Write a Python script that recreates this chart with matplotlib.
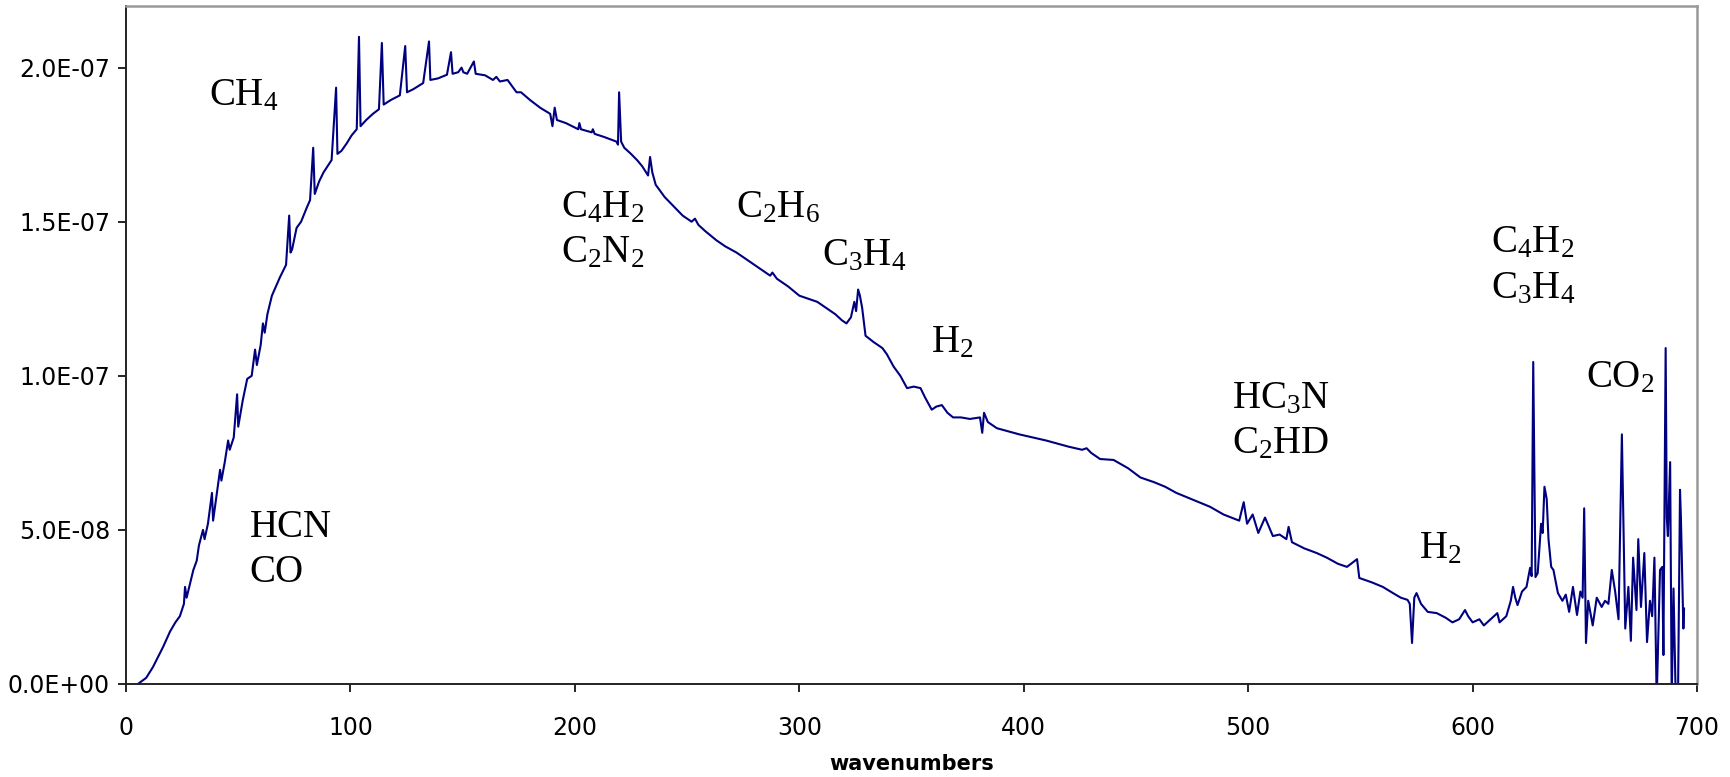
import matplotlib
matplotlib.use("Agg")
import matplotlib.pyplot as plt
from matplotlib.ticker import FuncFormatter

plt.rcParams['mathtext.fontset'] = 'custom'
plt.rcParams['mathtext.rm'] = 'Liberation Serif'
plt.rcParams['mathtext.it'] = 'Liberation Serif:italic'

# spectrum: wavenumber, intensity (units of 1e-7)
wavenumbers = [
    5.3, 9, 12, 16.5, 19.6, 22, 24, 25.8, 26.3, 27, 30, 31.5, 32.5, 34.3, 35, 36.5,
    38.3, 38.8, 40.5, 41.9, 42.5, 44, 45.5, 46.2, 48, 49.5, 50, 52, 54, 56, 57.5,
    58.3, 60, 61, 61.8, 63, 65, 68.6, 71.3, 72.7, 73.3, 74, 76, 78, 80.5, 82, 83.4,
    84.1, 86, 88, 91.6, 93.6, 94.2, 96, 98.4, 100.5, 102.8, 103.8, 104.5, 107, 110,
    112.7, 114, 114.8, 118, 122, 124.4, 125.2, 128, 132.4, 135, 135.6, 139, 143,
    144.8, 145.5, 148, 149.5, 150.3, 152, 155, 155.8, 160, 163.5, 165, 166.6, 170,
    174, 176, 180, 184.5, 189, 190, 191, 192, 196, 201.5, 202, 202.7, 207.5, 208,
    208.8, 213, 218.5, 219.2, 219.7, 220.6, 222, 225, 227.7, 230, 232.6, 233.5,
    234.5, 236, 240, 244, 248, 252, 253.5, 255, 258, 263, 267, 272, 278, 283, 287,
    288, 290, 295, 300, 304, 308, 312, 316, 319, 321, 323, 324.5, 325.3, 326.2,
    327, 328, 329.5, 333, 337, 339, 342, 345, 348, 351, 354, 356, 359, 361, 363.5,
    366, 368.5, 372, 376, 380.5, 381.5, 382.3, 384, 388, 393, 398, 404, 410, 415,
    420, 426, 428, 430, 434, 440, 446.5, 452, 458, 463, 468, 473, 478, 483, 489,
    496, 498, 499.5, 502, 504.5, 507.5, 511, 514, 517, 518, 519.5, 525, 530.5, 535,
    540, 544, 548.5, 549.5, 555, 560, 564.5, 568, 571, 572, 573, 574, 575, 577, 580,
    584, 588, 591, 594, 596.6, 598, 600, 603, 605, 608, 611, 612, 615, 617, 618,
    619, 620, 622, 624, 625.6, 626.3, 627, 628, 629, 630.5, 631.2, 632, 633, 633.8,
    635, 636, 638, 640, 641.5, 643, 644.7, 646.5, 648, 649, 649.7, 650.5, 651.5,
    653.5, 655.3, 657.5, 659, 660.5, 662, 663.5, 665, 666.5, 668, 669.4, 670.5,
    671.5, 673, 673.8, 675, 676.5, 677.7, 679, 680, 681, 682, 683.5, 684.5, 685,
    686, 686.5, 687, 688, 688.7, 689.5, 690.5, 691.5, 692.4, 692.8, 693.9, 694.2,
]
intensity = [
    0.0, 0.02, 0.055, 0.12, 0.17, 0.20, 0.22, 0.26, 0.315, 0.28, 0.37, 0.40, 0.45, 0.50, 0.47, 0.52,
    0.62, 0.53, 0.62, 0.695, 0.66, 0.72, 0.79, 0.76, 0.80, 0.94, 0.835, 0.92, 0.99, 1.00, 1.085,
    1.035, 1.10, 1.17, 1.14, 1.20, 1.26, 1.32, 1.36, 1.52, 1.40, 1.41, 1.48, 1.50, 1.545, 1.57, 1.74,
    1.59, 1.63, 1.66, 1.70, 1.935, 1.72, 1.73, 1.755, 1.78, 1.80, 2.10, 1.81, 1.83, 1.85,
    1.865, 2.08, 1.88, 1.895, 1.91, 2.07, 1.92, 1.93, 1.95, 2.085, 1.96, 1.965, 1.977,
    2.05, 1.98, 1.985, 2.00, 1.985, 1.98, 2.02, 1.98, 1.975, 1.96, 1.97, 1.955, 1.96,
    1.92, 1.92, 1.895, 1.87, 1.85, 1.81, 1.87, 1.83, 1.82, 1.80, 1.82, 1.80, 1.79, 1.80,
    1.785, 1.775, 1.76, 1.75, 1.92, 1.76, 1.74, 1.72, 1.70, 1.68, 1.65, 1.71,
    1.66, 1.62, 1.58, 1.55, 1.52, 1.50, 1.51, 1.49, 1.47, 1.44, 1.42, 1.40, 1.37, 1.345, 1.325,
    1.335, 1.315, 1.29, 1.26, 1.25, 1.24, 1.22, 1.20, 1.18, 1.17, 1.19, 1.24, 1.21, 1.28,
    1.26, 1.22, 1.13, 1.11, 1.09, 1.07, 1.03, 1.00, 0.96, 0.965, 0.96, 0.93, 0.89, 0.90, 0.905,
    0.88, 0.865, 0.865, 0.86, 0.865, 0.815, 0.88, 0.85, 0.83, 0.82, 0.81, 0.80, 0.79, 0.78,
    0.77, 0.76, 0.765, 0.75, 0.73, 0.727, 0.70, 0.67, 0.655, 0.64, 0.62, 0.605, 0.59, 0.575, 0.55,
    0.53, 0.59, 0.52, 0.55, 0.49, 0.54, 0.48, 0.485, 0.47, 0.51, 0.46, 0.44, 0.425, 0.41,
    0.39, 0.38, 0.405, 0.344, 0.33, 0.315, 0.295, 0.28, 0.273, 0.26, 0.133, 0.28, 0.295, 0.26, 0.234,
    0.23, 0.215, 0.20, 0.21, 0.24, 0.22, 0.20, 0.21, 0.19, 0.21, 0.23, 0.20, 0.22, 0.27, 0.315,
    0.28, 0.256, 0.30, 0.315, 0.377, 0.35, 1.045, 0.347, 0.36, 0.52, 0.49, 0.64, 0.60, 0.47,
    0.38, 0.37, 0.295, 0.27, 0.29, 0.234, 0.315, 0.224, 0.30, 0.28, 0.57, 0.133, 0.27,
    0.19, 0.28, 0.25, 0.27, 0.26, 0.37, 0.30, 0.21, 0.81, 0.18, 0.315, 0.14,
    0.41, 0.24, 0.47, 0.25, 0.425, 0.136, 0.27, 0.22, 0.41, -0.05, 0.37, 0.38, 0.094,
    1.09, 0.54, 0.48, 0.72, -0.05, 0.31, -0.05, -0.05, 0.63, 0.54, 0.18, 0.245,
]

# molecule labels: text, x (wavenumber), baseline y (1e-7)
labels = [r'CH$_\mathrm{4}$', 'HCN', 'CO', r'C$_\mathrm{4}$H$_\mathrm{2}$', r'C$_\mathrm{2}$N$_\mathrm{2}$',
          r'C$_\mathrm{2}$H$_\mathrm{6}$', r'C$_\mathrm{3}$H$_\mathrm{4}$', r'H$_\mathrm{2}$',
          r'HC$_\mathrm{3}$N', r'C$_\mathrm{2}$HD', r'H$_\mathrm{2}$', r'C$_\mathrm{4}$H$_\mathrm{2}$',
          r'C$_\mathrm{3}$H$_\mathrm{4}$', r'CO$_\mathrm{2}$']
label_x = [37, 55, 55, 194, 194, 272, 310, 358.7, 493, 493, 576, 608, 608, 650.5]
label_y = [1.877, 0.477, 0.33, 1.513, 1.367, 1.513, 1.36, 1.075, 0.893, 0.747, 0.409, 1.40, 1.25, 0.964]

fig = plt.figure(figsize=(17.31, 7.77), dpi=100)
ax = fig.add_axes([0.0728, 0.1197, 0.9076, 0.8726])

ax.plot(wavenumbers, [v * 1e-7 for v in intensity], color='#000080', lw=1.5)

for t, x, y in zip(labels, label_x, label_y):
    ax.text(x, y * 1e-7, t, fontsize=28, family='Liberation Serif', va='baseline', ha='left')

ax.set_xlim(0, 700)
ax.set_ylim(0, 2.2e-7)
ax.set_xticks(range(0, 701, 100))
ax.set_yticks([0, 5e-8, 1e-7, 1.5e-7, 2e-7])
ax.yaxis.set_major_formatter(FuncFormatter(lambda v, p: f"{v:.1E}"))
ax.tick_params(axis='both', direction='out', length=6, width=1.2, labelsize=17, colors='black')
ax.tick_params(axis='x', pad=17)
ax.tick_params(axis='y', pad=5.5)
ax.set_xlabel('wavenumbers', fontsize=15, fontweight='bold', labelpad=10)

for s in ['left', 'bottom']:
    ax.spines[s].set_color('#222222')
    ax.spines[s].set_linewidth(1.4)
for s in ['top', 'right']:
    ax.spines[s].set_color('#999999')
    ax.spines[s].set_linewidth(1.8)

fig.savefig('out.png', dpi=100)
